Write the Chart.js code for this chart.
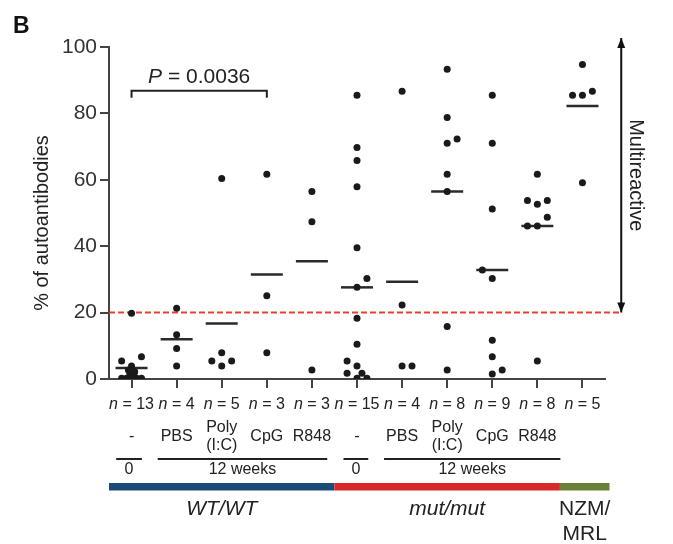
<!DOCTYPE html>
<html>
<head>
<meta charset="utf-8">
<script src="https://cdn.jsdelivr.net/npm/chart.js@4.4.0/dist/chart.umd.min.js"></script>
<style>
  body { margin: 0; background: #fff; }
  #wrap { width: 673px; height: 544px; }
</style>
</head>
<body>
<div id="wrap"><canvas id="chart" width="673" height="544"></canvas></div>
<script>
// values (% of autoantibodies per mouse)
const groupN = [13, 4, 5, 3, 3, 15, 4, 8, 9, 8, 5];
const treatments = ['-', 'PBS', 'Poly|(I:C)', 'CpG', 'R848', '-', 'PBS', 'Poly|(I:C)', 'CpG', 'R848', ''];
const groupValues = [
  [19.8, 6.7, 5.4, 3.9, 2.7, 2.2, 1.8, 1.2, 0.2, 0.2, 0.2, 0.2, 0.2],
  [21.3, 13.3, 9.2, 3.9],
  [60.4, 7.9, 5.4, 5.4, 3.9],
  [61.7, 25.1, 7.9],
  [56.5, 47.4, 2.7],
  [85.5, 69.7, 65.8, 57.9, 39.5, 30.3, 27.6, 18.3, 10.5, 5.4, 3.9, 1.7, 1.7, 0.2, 0.2],
  [86.7, 22.3, 3.9, 3.9],
  [93.3, 78.8, 72.3, 71, 61.7, 56.5, 15.8, 2.7],
  [85.5, 71, 51.2, 32.8, 30.3, 11.7, 6.7, 2.7, 1.5],
  [61.7, 53.8, 53.8, 52.6, 48.7, 46.1, 46.1, 5.4],
  [94.7, 86.7, 85.5, 85.5, 59.1]
];
// horizontal scatter of the dots inside each column
const groupJitter = [
  [0, 0.22, -0.22, 0, -0.07, 0.07, -0.04, 0.05, -0.22, -0.11, 0, 0.11, 0.22],
  [0, 0, 0, 0],
  [0, 0, -0.22, 0.22, 0],
  [0, 0, 0],
  [0, 0, 0],
  [0, 0, 0, 0, 0, 0.22, 0, 0, 0, -0.22, 0, -0.22, 0.11, 0, 0.22],
  [0, 0, 0, 0.22],
  [0, 0, 0.22, 0, 0, 0, 0, 0],
  [0, 0, 0, -0.22, 0, 0, 0, 0.22, 0],
  [0, -0.22, 0.22, 0, 0.22, -0.22, 0, 0],
  [0, 0.22, -0.22, 0, 0]
];
const groupMeans = [3.3, 12.0, 16.7, 31.5, 35.5, 27.6, 29.3, 56.5, 32.8, 46.1, 82.2];
const threshold = 20;
const yTicks = [0, 20, 40, 60, 80, 100];

// bracket rows under the labels: [from, to, text]
const timeRows = [[0.66, 1.23, '0'], [1.58, 5.34, '12 weeks'], [5.7, 6.25, '0'], [6.6, 10.51, '12 weeks']];
const genotypes = [[0.5, 5.5, '#1c4b78', 'WT/WT', true], [5.5, 10.5, '#d8282b', 'mut/mut', true], [10.5, 11.6, '#6a7f37', 'NZM/|MRL', false]];

const arrowX = 11.86, arrowTop = 102.7;
const FONT = '"Liberation Sans", Arial, Helvetica, sans-serif';

const dots = [];
groupValues.forEach((vals, i) => vals.forEach((v, j) => dots.push({ x: i + 1 + groupJitter[i][j], y: v })));
const meanPts = groupMeans.map((m, i) => ({ x: i + 1, y: m }));

function txt(ctx, s, x, y, size, opts = {}) {
  ctx.font = (opts.bold ? 'bold ' : '') + (opts.italic ? 'italic ' : '') + size + 'px ' + FONT;
  ctx.fillStyle = opts.color || '#222';
  ctx.textAlign = opts.align || 'center';
  ctx.textBaseline = 'middle';
  ctx.fillText(s, x, y);
}

// "n = 13" with an italic n, centred on cx
function nLabel(ctx, n, cx, y) {
  const a = 'n', b = ' = ' + n;
  ctx.font = 'italic 16px ' + FONT;
  const wa = ctx.measureText(a).width;
  ctx.font = '16px ' + FONT;
  const wb = ctx.measureText(b).width;
  const x0 = cx - (wa + wb) / 2;
  txt(ctx, a, x0, y, 16, { italic: true, align: 'left' });
  txt(ctx, b, x0 + wa, y, 16, { align: 'left' });
}

const annotations = {
  id: 'annotations',
  afterDraw(chart) {
    const ctx = chart.ctx;
    const xs = chart.scales.x, ys = chart.scales.y;
    const bottom = chart.chartArea.bottom;
    ctx.save();

    // panel letter
    txt(ctx, 'B', 13, 27, 23, { bold: true, align: 'left', color: '#111' });

    // y title
    ctx.save();
    ctx.translate(42, 223);
    ctx.rotate(-Math.PI / 2);
    txt(ctx, '% of autoantibodies', 0, 0, 20);
    ctx.restore();

    // P value bracket between group 1 and 4
    const bx1 = xs.getPixelForValue(1), bx2 = xs.getPixelForValue(4);
    const by = ys.getPixelForValue(86.8), byEnd = ys.getPixelForValue(84.7);
    ctx.strokeStyle = '#222';
    ctx.lineWidth = 2;
    ctx.beginPath();
    ctx.moveTo(bx1, byEnd); ctx.lineTo(bx1, by); ctx.lineTo(bx2, by); ctx.lineTo(bx2, byEnd);
    ctx.stroke();
    const pText = ' = 0.0036';
    ctx.font = 'italic 21px ' + FONT;
    const wp = ctx.measureText('P').width;
    ctx.font = '21px ' + FONT;
    const wr = ctx.measureText(pText).width;
    const px0 = (bx1 + bx2) / 2 - (wp + wr) / 2;
    const py = ys.getPixelForValue(91);
    txt(ctx, 'P', px0, py, 21, { italic: true, align: 'left' });
    txt(ctx, pText, px0 + wp, py, 21, { align: 'left' });

    // arrow heads for the multireactive range
    const ax = xs.getPixelForValue(arrowX);
    const aTop = ys.getPixelForValue(arrowTop), aBot = ys.getPixelForValue(threshold);
    ctx.fillStyle = '#111';
    ctx.beginPath();
    ctx.moveTo(ax, aTop); ctx.lineTo(ax - 4, aTop + 10); ctx.lineTo(ax + 4, aTop + 10); ctx.closePath();
    ctx.fill();
    ctx.beginPath();
    ctx.moveTo(ax, aBot); ctx.lineTo(ax - 4, aBot - 10); ctx.lineTo(ax + 4, aBot - 10); ctx.closePath();
    ctx.fill();
    ctx.save();
    ctx.translate(ax + 14, (aTop + aBot) / 2);
    ctx.rotate(Math.PI / 2);
    txt(ctx, 'Multireactive', 0, 0, 20);
    ctx.restore();

    // category labels under the axis
    groupN.forEach((n, i) => {
      const cx = xs.getPixelForValue(i + 1);
      nLabel(ctx, n, cx, bottom + 26);
      const t = treatments[i];
      if (t.includes('|')) {
        const [l1, l2] = t.split('|');
        txt(ctx, l1, cx, bottom + 49, 16);
        txt(ctx, l2, cx, bottom + 67, 16);
      } else if (t) {
        txt(ctx, t, cx, bottom + 58, 16);
      }
    });

    timeRows.forEach(([a, b, label]) => {
      const x1 = xs.getPixelForValue(a), x2 = xs.getPixelForValue(b);
      ctx.strokeStyle = '#222';
      ctx.lineWidth = 2;
      ctx.beginPath();
      ctx.moveTo(x1, bottom + 80); ctx.lineTo(x2, bottom + 80);
      ctx.stroke();
      txt(ctx, label, (x1 + x2) / 2, bottom + 91, 16);
    });

    genotypes.forEach(([a, b, color, label, italic]) => {
      const x1 = xs.getPixelForValue(a), x2 = xs.getPixelForValue(b);
      ctx.fillStyle = color;
      ctx.fillRect(x1, bottom + 104, x2 - x1, 7.5);
      const cx = (x1 + x2) / 2;
      if (label.includes('|')) {
        const [l1, l2] = label.split('|');
        txt(ctx, l1, cx, bottom + 130, 21);
        txt(ctx, l2, cx, bottom + 155, 21);
      } else {
        txt(ctx, label, cx, bottom + 130, 21, { italic });
      }
    });

    ctx.restore();
  }
};

new Chart(document.getElementById('chart'), {
  type: 'scatter',
  data: {
    datasets: [
      {
        label: 'threshold', type: 'line',
        data: [{ x: 0.5, y: threshold }, { x: arrowX, y: threshold }],
        borderColor: '#e5412c', borderWidth: 2, borderDash: [6, 3],
        pointRadius: 0, clip: false, order: 3
      },
      {
        label: 'multireactive', type: 'line',
        data: [{ x: arrowX, y: threshold }, { x: arrowX, y: arrowTop }],
        borderColor: '#111', borderWidth: 2,
        pointRadius: 0, clip: false, order: 3
      },
      {
        label: 'mean',
        data: meanPts,
        pointStyle: 'line', pointRadius: 16, borderWidth: 2.5,
        borderColor: '#2a2a2a', order: 2
      },
      {
        label: 'mice',
        data: dots,
        pointRadius: 3.5, borderWidth: 0,
        backgroundColor: '#1a1a1a', order: 1
      }
    ]
  },
  options: {
    responsive: false,
    animation: false,
    events: [],
    layout: { padding: { left: 0, top: 47, right: 68, bottom: 155 } },
    plugins: { legend: { display: false }, tooltip: { enabled: false } },
    scales: {
      x: {
        type: 'linear', min: 0.5, max: 11.5,
        afterBuildTicks: s => { s.ticks = groupN.map((n, i) => ({ value: i + 1 })); },
        afterFit: s => { s.height = 10; },
        border: { display: true, color: '#444', width: 2 },
        grid: { display: true, drawOnChartArea: false, drawTicks: true, tickLength: 9, color: '#444', lineWidth: 2 },
        ticks: { display: false }
      },
      y: {
        min: 0, max: 100,
        afterBuildTicks: s => { s.ticks = yTicks.map(v => ({ value: v })); },
        afterFit: s => { s.width = 109; },
        border: { display: true, color: '#444', width: 2 },
        grid: { display: true, drawOnChartArea: false, drawTicks: true, tickLength: 9, color: '#444', lineWidth: 2 },
        ticks: { color: '#333', padding: 3, font: { family: FONT, size: 21 } }
      }
    }
  },
  plugins: [annotations]
});
</script>
</body>
</html>
